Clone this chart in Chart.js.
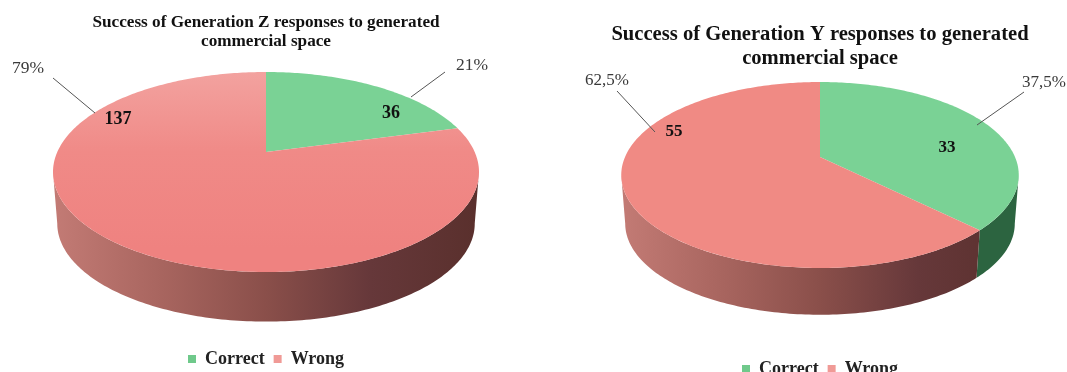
<!DOCTYPE html>
<html>
<head>
<meta charset="utf-8">
<script src="https://cdn.jsdelivr.net/npm/chart.js@4"></script>
<style>
  html, body { margin: 0; padding: 0; background: #fff; width: 1067px; height: 372px; overflow: hidden; }
  .box { position: absolute; top: 0; filter: blur(0.45px); }
  #boxZ { left: 0; width: 532px; height: 378px; }
  #boxY { left: 533px; width: 574px; height: 388px; }
</style>
</head>
<body>
<div class="box" id="boxZ"><canvas id="chartZ"></canvas></div>
<div class="box" id="boxY"><canvas id="chartY"></canvas></div>
<script>
const categories = ['Correct', 'Wrong'];
const valuesZ = [36, 137];
const valuesY = [33, 55];
const percentLabelsZ = ['21%', '79%'];
const percentLabelsY = ['37,5%', '62,5%'];
const titleZ = ['Success of Generation Z responses to generated', 'commercial space'];
const titleY = ['Success of Generation Y responses to generated', 'commercial space'];
const legendColors = ['#6fc98b', '#f09a96'];

// fake 3D pie: the arcs come from chart.js, only the projection is done here
const pie3d = {
  id: 'pie3d',
  beforeDatasetDraw(chart) {
    const g = chart.options.plugins.pie3d;
    const ctx = chart.ctx;
    const arcs = chart.getDatasetMeta(0).data;

    const point = (angle, scale, drop) => {
      const d = 1 - g.p * Math.sin(angle);
      return [
        g.cx + (scale * g.b * Math.cos(angle)) / d,
        g.cy + (scale * g.a * Math.sin(angle)) / d + drop,
      ];
    };
    const rim = (from, to, scale, drop) => {
      const steps = Math.max(2, Math.ceil(Math.abs(to - from) * 60));
      for (let i = 0; i <= steps; i++) {
        const p = point(from + ((to - from) * i) / steps, scale, drop);
        ctx.lineTo(p[0], p[1]);
      }
    };

    // sides
    const vis0 = Math.asin(g.p);
    const vis1 = Math.PI - vis0;
    arcs.forEach((arc, i) => {
      const from = Math.max(arc.startAngle, vis0);
      const to = Math.min(arc.endAngle, vis1);
      if (to <= from) return;
      const grad = ctx.createLinearGradient(g.cx - g.b, 0, g.cx + g.b, 0);
      g.sides[i].forEach((c, k, all) => grad.addColorStop(k / (all.length - 1), c));
      ctx.beginPath();
      rim(from, to, 1, 0);
      rim(to, from, g.s, g.d);
      ctx.closePath();
      ctx.fillStyle = grad;
      ctx.fill();
    });

    // top face
    arcs.forEach((arc, i) => {
      const grad = ctx.createLinearGradient(0, g.cy - g.a, 0, g.cy + g.a);
      g.tops[i].forEach((c, k, all) => grad.addColorStop(k / (all.length - 1), c));
      ctx.beginPath();
      ctx.moveTo(g.cx, g.cy);
      rim(arc.startAngle, arc.endAngle, 1, 0);
      ctx.closePath();
      ctx.fillStyle = grad;
      ctx.fill();
    });
    return false;
  },
  afterDraw(chart) {
    const g = chart.options.plugins.pie3d;
    const ctx = chart.ctx;
    const values = chart.data.datasets[0].data;
    ctx.save();
    ctx.textAlign = 'center';
    ctx.textBaseline = 'middle';
    values.forEach((v, i) => {
      const l = g.leaders[i];
      ctx.strokeStyle = '#555';
      ctx.lineWidth = 1;
      ctx.beginPath();
      ctx.moveTo(l[0], l[1]);
      ctx.lineTo(l[2], l[3]);
      ctx.stroke();
      ctx.fillStyle = '#3a3a3a';
      ctx.font = g.percentFont;
      ctx.fillText(g.percents[i], g.percentAt[i][0], g.percentAt[i][1]);
      ctx.fillStyle = '#111';
      ctx.font = g.valueFont;
      ctx.fillText(String(v), g.valueAt[i][0], g.valueAt[i][1]);
    });
    ctx.restore();
  },
};

function makeChart(id, values, title, titleSize, titleLine, titlePad, geometry) {
  new Chart(document.getElementById(id), {
    type: 'pie',
    data: {
      labels: categories,
      datasets: [{ data: values, backgroundColor: legendColors, borderWidth: 0 }],
    },
    plugins: [pie3d],
    options: {
      responsive: true,
      maintainAspectRatio: false,
      animation: false,
      plugins: {
        pie3d: geometry,
        tooltip: { enabled: false },
        title: {
          display: true,
          text: title,
          color: '#111',
          padding: titlePad,
          font: { family: 'Liberation Serif', weight: 'bold', size: titleSize, lineHeight: titleLine },
        },
        legend: {
          position: 'bottom',
          labels: {
            boxWidth: 8,
            boxHeight: 8,
            padding: 9,
            color: '#222',
            font: { family: 'Liberation Serif', weight: 'bold', size: 18 },
          },
        },
      },
    },
  });
}

const sideWrong = ['#c27a74', '#a8655f', '#8a4f4a', '#66383a', '#5a302d'];

makeChart('chartZ', valuesZ, titleZ, 17.2, 1.1, { top: 13, bottom: 0 }, {
  cx: 266, cy: 152, a: 96, b: 208.7, p: 0.2, s: 0.98, d: 52,
  tops: [['#7ad295', '#7ad295'], ['#f3a7a4', '#f08a87', '#ef8280']],
  sides: [['#3a7a50', '#2a5a3a'], sideWrong],
  percents: percentLabelsZ,
  percentAt: [[472, 65], [28, 68]],
  valueAt: [[391, 113], [118, 119]],
  leaders: [[445, 72, 411, 97], [53, 78, 95, 113]],
  percentFont: '17.5px "Liberation Serif"',
  valueFont: 'bold 18px "Liberation Serif"',
});

makeChart('chartY', valuesY, titleY, 20.6, 1.15, { top: 23, bottom: 0 }, {
  cx: 287, cy: 157, a: 89.5, b: 195, p: 0.1935, s: 0.98, d: 49,
  tops: [['#7ad295', '#7ad295'], ['#f08a84', '#f08a84']],
  sides: [['#2f6a44', '#2f6a44', '#2c6440', '#2c6440', '#2c6440'], sideWrong],
  percents: percentLabelsY,
  percentAt: [[511, 83], [74, 81]],
  valueAt: [[414, 148], [141, 132]],
  leaders: [[491, 92, 444, 125], [84, 91, 122, 132]],
  percentFont: '17px "Liberation Serif"',
  valueFont: 'bold 17px "Liberation Serif"',
});
</script>
</body>
</html>
